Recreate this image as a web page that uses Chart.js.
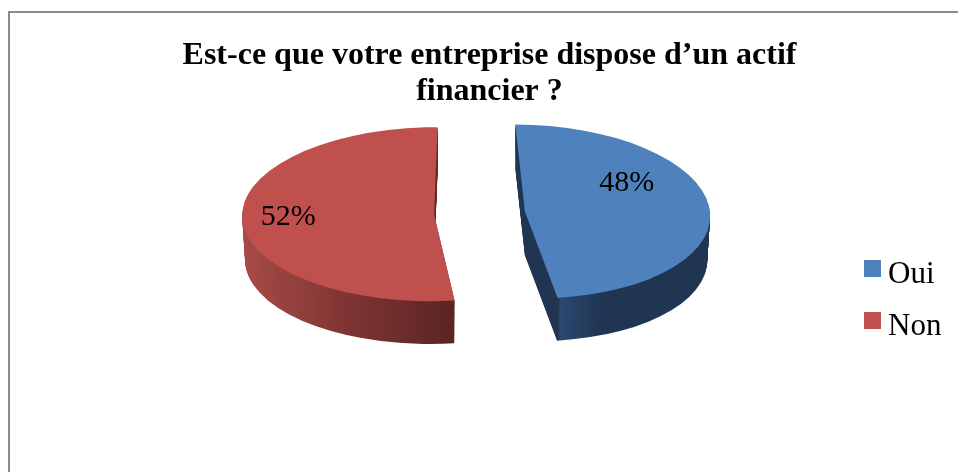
<!DOCTYPE html>
<html>
<head>
<meta charset="utf-8">
<style>
  html, body { margin: 0; padding: 0; background: #fff; }
  body { width: 958px; height: 472px; position: relative; overflow: hidden; font-family: "Liberation Serif", serif; }
  #frame { position: absolute; left: 8px; top: 11px; right: -4px; bottom: -4px; border: 2px solid #8c8c8c; }
  #chart { position: absolute; left: 0; top: 0; }
  #legend { position: absolute; left: 864px; top: 247px; margin: 0; padding: 0; list-style: none; font-size: 31px; color: #000; }
  #legend li { height: 52px; line-height: 52px; position: relative; padding-left: 24px; white-space: nowrap; }
  #legend i { position: absolute; left: 0; top: 13px; width: 17px; height: 17px; }
</style>
</head>
<body>
<div id="frame"></div>
<canvas id="chart" width="958" height="472"></canvas>
<ul id="legend"></ul>
<script src="https://cdn.jsdelivr.net/npm/chart.js@4"></script>
<script>
  // Chart data
  const categories = ['Oui', 'Non'];
  const shares = [48, 52];
  const titleLines = ['Est-ce que votre entreprise dispose d\u2019un actif', 'financier ?'];

  const topColors = ['#4f81bd', '#c0504d'];
  const sideStops = [
    [[0, '#1f3552'], [0.13, '#1f3552'], [0.14, '#2c4870'], [0.38, '#1f3552'], [1, '#1f3552']],
    [[0, '#a84b48'], [0.5, '#7f3533'], [1, '#5c2524']]
  ];

  // Fake 3D look: squash the pie, then stack darker copies under it
  const view = { x: 476, y: 213, squash: 0.458, depth: 44, shrink: 0.015 };
  const pieRadius = 190;
  const explode = [49, 42];
  const widen = [0.974, 1.01];
  const shear = [0.11, -0.04];
  const labelPlace = [{ angle: 56.3, dist: 0.645 }, { angle: 270, dist: 0.768 }];

  function apexOf(arc, i) {
    const mid = (arc.startAngle + arc.endAngle) / 2;
    return {
      x: view.x + Math.cos(mid) * explode[i],
      y: view.y + Math.sin(mid) * explode[i] * view.squash
    };
  }

  function applyView(ctx, arc, i, down, scale) {
    const apex = apexOf(arc, i);
    ctx.translate(apex.x, apex.y + down);
    ctx.transform(widen[i] * scale, 0, shear[i] * view.squash * scale, view.squash * scale, 0, 0);
    ctx.translate(-arc.x, -arc.y);
  }

  function sideGradient(ctx, arc, i) {
    const r = arc.outerRadius;
    const from = i === 0 ? arc.x : arc.x - r;
    const to = i === 0 ? arc.x + r : arc.x + r * 0.1;
    const grad = ctx.createLinearGradient(from, 0, to, 0);
    sideStops[i].forEach(function(stop) {
      grad.addColorStop(stop[0], stop[1]);
    });
    return grad;
  }

  const pie3d = {
    id: 'pie3d',
    beforeDatasetDraw(chart, args) {
      const ctx = chart.ctx;
      const arcs = args.meta.data;
      arcs.forEach(function(arc, i) {
        const topOptions = arc.options;
        arc.options = Object.assign({}, topOptions, { backgroundColor: sideGradient(ctx, arc, i) });
        for (let d = view.depth; d > 0; d--) {
          ctx.save();
          applyView(ctx, arc, i, d, 1 - view.shrink * d / view.depth);
          arc.draw(ctx);
          ctx.restore();
        }
        arc.options = topOptions;
        ctx.save();
        applyView(ctx, arc, i, 0, 1);
        arc.draw(ctx);
        ctx.restore();
      });
      return false;
    },
    afterDatasetsDraw(chart) {
      const ctx = chart.ctx;
      const arcs = chart.getDatasetMeta(0).data;
      ctx.save();
      ctx.fillStyle = '#000';
      ctx.font = '30px "Liberation Serif"';
      ctx.textAlign = 'center';
      ctx.textBaseline = 'middle';
      arcs.forEach(function(arc, i) {
        const a = labelPlace[i].angle * Math.PI / 180;
        const len = arc.outerRadius * labelPlace[i].dist;
        const apex = apexOf(arc, i);
        const px = apex.x + Math.sin(a) * len;
        const py = apex.y - Math.cos(a) * len * view.squash + 3;
        ctx.fillText(shares[i] + '%', px, py);
      });
      ctx.restore();
    }
  };

  new Chart(document.getElementById('chart').getContext('2d'), {
    type: 'pie',
    data: {
      labels: categories,
      datasets: [{
        data: shares,
        backgroundColor: topColors,
        borderWidth: 0,
        clip: false
      }]
    },
    options: {
      responsive: false,
      animation: false,
      radius: pieRadius,
      layout: { padding: { left: 21 } },
      plugins: {
        legend: { display: false },
        tooltip: { enabled: false },
        title: {
          display: true,
          text: titleLines,
          color: '#000',
          font: { family: '"Liberation Serif"', size: 32, weight: 'bold', lineHeight: 1.125 },
          padding: { top: 38, bottom: 10 }
        }
      }
    },
    plugins: [pie3d]
  });

  // Legend built from the same arrays
  const legendList = document.getElementById('legend');
  categories.forEach(function(name, i) {
    const item = document.createElement('li');
    const box = document.createElement('i');
    box.style.background = topColors[i];
    item.appendChild(box);
    item.appendChild(document.createTextNode(name));
    legendList.appendChild(item);
  });
</script>
</body>
</html>
